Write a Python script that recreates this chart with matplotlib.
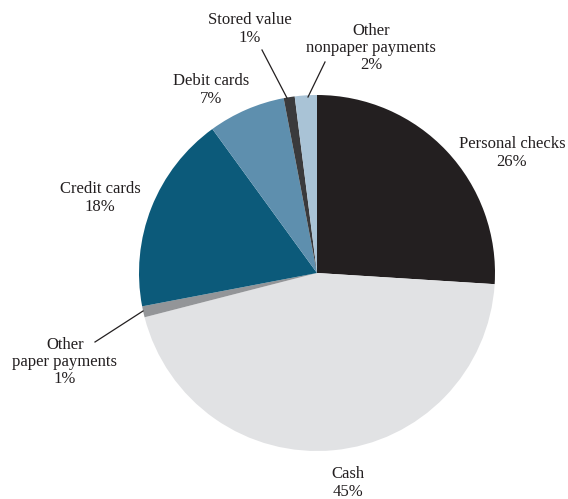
import matplotlib
matplotlib.use("Agg")
import matplotlib.pyplot as plt

categories = ["Personal checks", "Cash", "Other\npaper payments", "Credit cards",
              "Debit cards", "Stored value", "Other\nnonpaper payments"]
values = [26, 45, 1, 18, 7, 1, 2]
pct_labels = ["26%", "45%", "1%", "18%", "7%", "1%", "2%"]
colors = ["#231f20", "#e1e2e4", "#939598", "#0c5a7a", "#5e8fae", "#3a3a3c", "#a9c3d6"]

W, H = 568, 499
fig = plt.figure(figsize=(W / 100, H / 100), dpi=100)
ax = fig.add_axes([0, 0, 1, 1])
ax.set_xlim(0, W)
ax.set_ylim(0, H)
ax.set_aspect("equal")
ax.axis("off")

cx, cy, r = 317, H - 273, 178
ax.pie(values, colors=colors, startangle=90, counterclock=False,
       center=(cx, cy), radius=r, wedgeprops=dict(linewidth=0))
ax.set_xlim(0, W)
ax.set_ylim(0, H)

# label text positions (pixel coords, top-left origin)
label_pos = [(512, 153), (348, 483), (65, 362), (100, 198),
             (211, 90), (250, 29), (371, 48)]
leaders = {2: ((95, 342), (143, 311)),
           5: ((262, 50), (287, 98)),
           6: ((325, 62), (308, 97))}

font = dict(family=["Liberation Serif", "DejaVu Serif"], fontsize=12,
            color="#231f20", ha="center", va="center", linespacing=1.1)
for i, (cat, pct) in enumerate(zip(categories, pct_labels)):
    x, y = label_pos[i]
    ax.text(x, H - y, cat + "\n" + pct, **font)
for i, ((x0, y0), (x1, y1)) in leaders.items():
    ax.plot([x0, x1], [H - y0, H - y1], color="#231f20", lw=0.9)

fig.savefig("out.png", dpi=100)
